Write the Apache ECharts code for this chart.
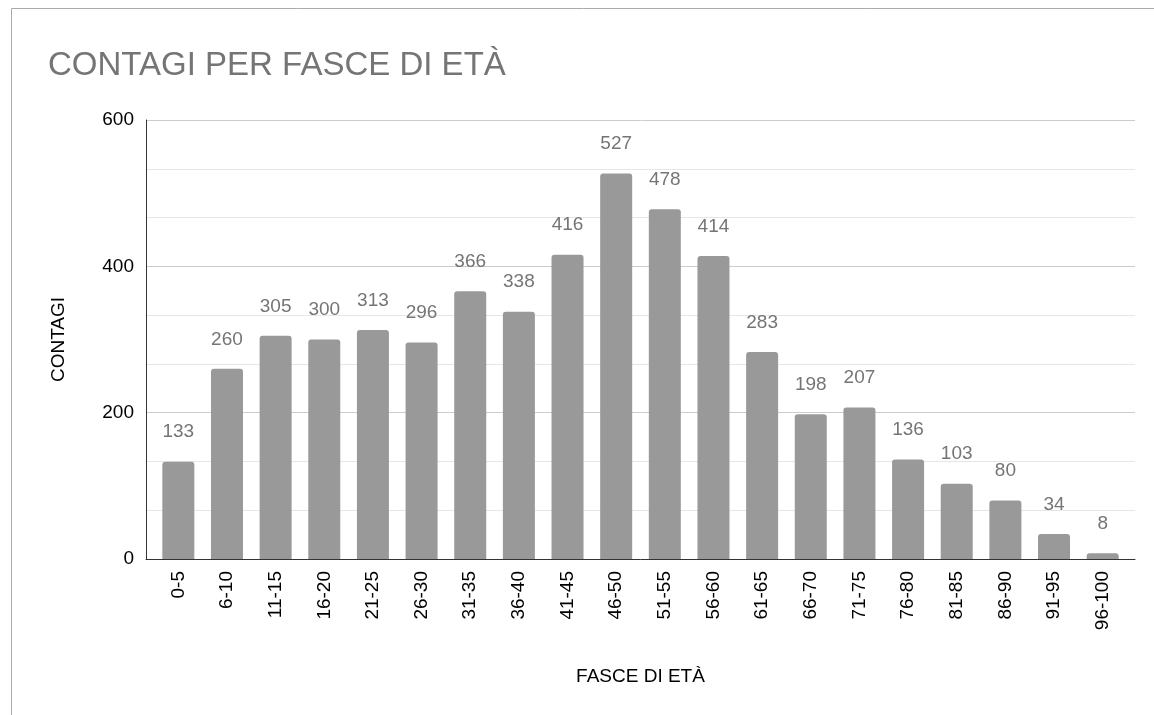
<!DOCTYPE html>
<html>
<head>
<meta charset="utf-8">
<title>Contagi per fasce di età</title>
<script src="https://cdn.jsdelivr.net/npm/echarts@6/dist/echarts.min.js"></script>
<style>
    html, body { margin: 0; padding: 0; background: #fff; }
    #chart { width: 1154px; height: 715px; }
</style>
</head>
<body>
<div id="chart"></div>
<script>
// age bands and infections count
var fasce = ['0-5', '6-10', '11-15', '16-20', '21-25', '26-30', '31-35', '36-40', '41-45', '46-50',
    '51-55', '56-60', '61-65', '66-70', '71-75', '76-80', '81-85', '86-90', '91-95', '96-100'];
var contagi = [133, 260, 305, 300, 313, 296, 366, 338, 416, 527,
    478, 414, 283, 198, 207, 136, 103, 80, 34, 8];
var yTicks = [0, 200, 400, 600];

var font = '"Liberation Sans", Arial, sans-serif';
var fs = 19;

var myChart = echarts.init(document.getElementById('chart'));

var option = {
    animation: false,
    textStyle: { fontFamily: font },
    title: {
        text: 'CONTAGI PER FASCE DI ETÀ',
        left: 48,
        top: 49,
        padding: 0,
        textStyle: { fontSize: 33, fontWeight: 'normal', color: '#757575', fontFamily: font }
    },
    graphic: [{
        type: 'rect',
        shape: { x: 11.5, y: 8.5, width: 1300, height: 900 },
        style: { fill: 'none', stroke: '#aaa', lineWidth: 1 },
        silent: true
    }],
    // grid 0: axes + gridlines, grid 1: bars (inset a few px like the original)
    grid: [
        { left: 146, right: 19, top: 120, bottom: 156 },
        { left: 154, right: 27, top: 120, bottom: 156 }
    ],
    xAxis: [{
        type: 'category',
        gridIndex: 0,
        data: fasce,
        name: 'FASCE DI ETÀ',
        nameLocation: 'middle',
        nameGap: 108,
        nameTextStyle: { fontSize: fs, color: '#000', fontFamily: font },
        axisLine: { lineStyle: { color: '#333', width: 1 } },
        axisTick: { show: false },
        axisLabel: { show: false }
    }, {
        type: 'category',
        gridIndex: 1,
        data: fasce,
        axisLine: { show: false },
        axisTick: { show: false },
        axisLabel: { rotate: 90, fontSize: fs, color: '#000', margin: 12, interval: 0 }
    }],
    yAxis: [{
        type: 'value',
        gridIndex: 0,
        min: yTicks[0],
        max: yTicks[yTicks.length - 1],
        interval: 200,
        name: 'CONTAGI',
        nameLocation: 'middle',
        nameRotate: 90,
        nameGap: 78,
        nameTextStyle: { fontSize: fs, color: '#000', fontFamily: font },
        axisLine: { show: true, lineStyle: { color: '#333', width: 1 } },
        axisTick: { show: false },
        axisLabel: { fontSize: fs, color: '#000', margin: 12 },
        splitLine: { lineStyle: { color: '#cccccc' } },
        minorTick: { show: false, splitNumber: 3 },
        minorSplitLine: { show: true, lineStyle: { color: '#e6e6e6' } }
    }, {
        type: 'value',
        gridIndex: 1,
        min: yTicks[0],
        max: yTicks[yTicks.length - 1],
        interval: 200,
        show: false
    }],
    series: [{
        type: 'bar',
        xAxisIndex: 1,
        yAxisIndex: 1,
        data: contagi,
        barWidth: 32,
        itemStyle: { color: '#999999', borderRadius: [3, 3, 0, 0] },
        label: {
            show: true,
            position: 'top',
            distance: 20,
            fontSize: fs,
            color: '#757575'
        }
    }]
};

myChart.setOption(option);
</script>
</body>
</html>
